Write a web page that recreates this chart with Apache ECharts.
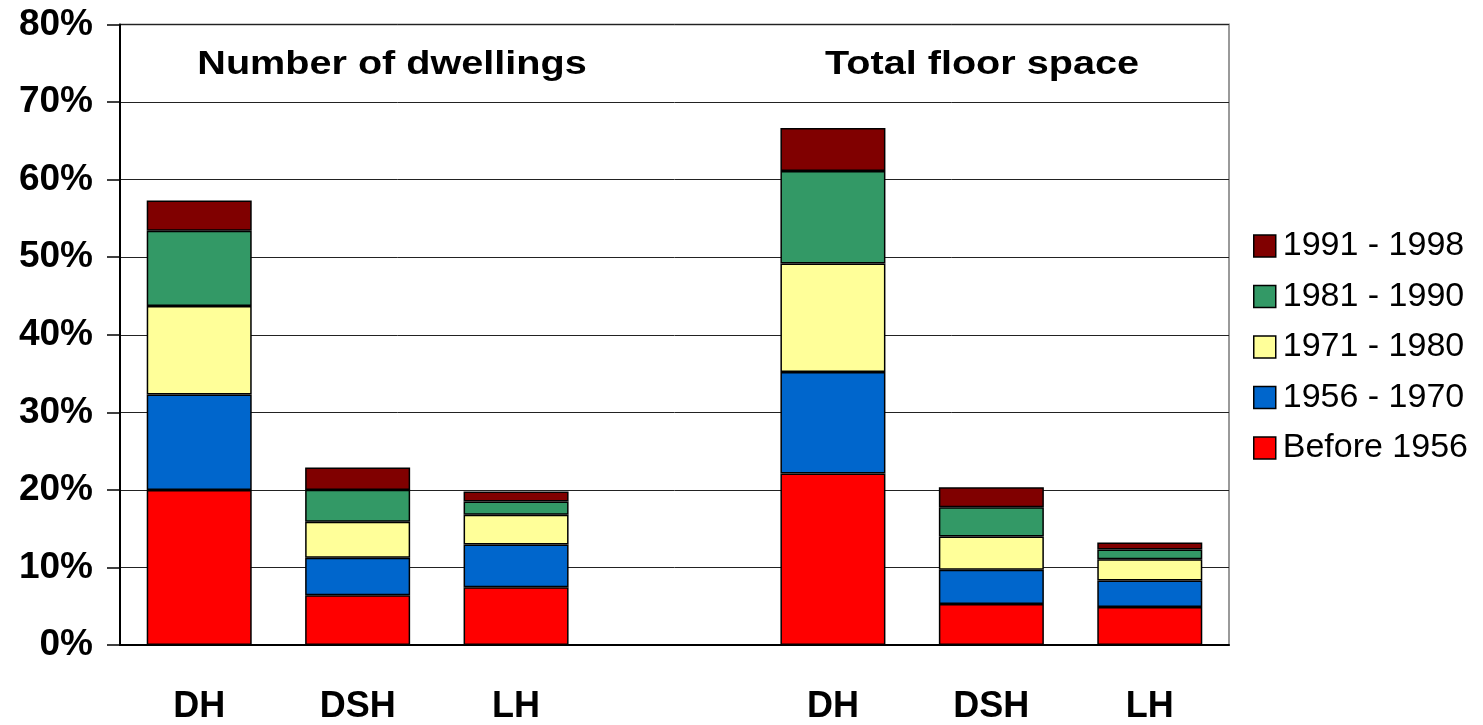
<!DOCTYPE html>
<html>
<head>
<meta charset="utf-8">
<title>Dwellings and floor space by construction period</title>
<script src="https://cdn.jsdelivr.net/npm/echarts@6/dist/echarts.min.js"></script>
<style>
  html, body { margin: 0; padding: 0; background: #fff; }
  #chart { width: 1483px; height: 725px; }
</style>
</head>
<body>
<div id="chart"></div>
<script>
// Building types, two groups separated by an empty slot
const categories = ['DH', 'DSH', 'LH', '', 'DH', 'DSH', 'LH'];

// Share (%) per construction period; first three = number of dwellings, last three = total floor space
const before1956 = [20.0, 6.4, 7.45, null, 22.1, 5.3, 4.9];
const p1956_1970 = [12.3, 4.85, 5.5, null, 13.1, 4.4, 3.4];
const p1971_1980 = [11.4, 4.65, 3.85, null, 14.0, 4.3, 2.75];
const p1981_1990 = [9.7, 4.1, 1.7, null, 11.9, 3.75, 1.25];
const p1991_1998 = [3.9, 2.9, 1.3, null, 5.55, 2.6, 0.9];

const periodNames = ['Before 1956', '1956 - 1970', '1971 - 1980', '1981 - 1990', '1991 - 1998'];
const periodValues = [before1956, p1956_1970, p1971_1980, p1981_1990, p1991_1998];
const periodColors = ['#FF0000', '#0066CC', '#FFFF99', '#339966', '#800000'];

const groupTitles = ['Number of dwellings', 'Total floor space'];

const FONT = '"Liberation Sans", Arial, sans-serif';

const chart = echarts.init(document.getElementById('chart'), null, { renderer: 'canvas' });

const series = periodNames.map((name, i) => ({
  name: name,
  type: 'bar',
  stack: 'total',
  barWidth: 105,
  data: periodValues[i],
  itemStyle: { color: periodColors[i], borderColor: '#000', borderWidth: 1.5 },
  emphasis: { disabled: true }
}));

chart.setOption({
  animation: false,
  backgroundColor: '#fff',
  grid: {
    left: 120, right: 254, top: 24.5, bottom: 78.5,
    show: true, borderColor: '#9a9a9a', borderWidth: 2, backgroundColor: '#fff'
  },
  legend: {
    orient: 'vertical',
    left: 1248, top: 224,
    itemWidth: 22, itemHeight: 22, itemGap: 16.5,
    icon: 'rect',
    data: periodNames.slice().reverse(),
    itemStyle: { borderColor: '#000', borderWidth: 1.5 },
    textStyle: { fontFamily: FONT, fontSize: 34, lineHeight: 34, color: '#000', padding: [0, 0, 0, 2] },
    selectedMode: false
  },
  xAxis: {
    type: 'category',
    data: categories,
    axisLine: { lineStyle: { color: '#000', width: 2 } },
    axisTick: { show: false },
    axisLabel: { fontFamily: FONT, fontSize: 36, fontWeight: 'bold', color: '#000', margin: 44 }
  },
  yAxis: {
    type: 'value',
    min: 0, max: 80, interval: 10,
    axisLine: { show: true, lineStyle: { color: '#000', width: 2 } },
    axisTick: { show: true, length: 13, lineStyle: { color: '#000', width: 1.5 } },
    splitLine: { lineStyle: { color: '#222', width: 1 } },
    axisLabel: {
      fontFamily: FONT, fontSize: 37, fontWeight: 'bold', color: '#000', margin: 27,
      formatter: '{value}%'
    }
  },
  graphic: [
    { type: 'text', x: 392, y: 65, scaleX: 1.2, silent: true,
      style: { text: groupTitles[0], fontFamily: FONT, fontSize: 33, fontWeight: 'bold', fill: '#000', align: 'center', verticalAlign: 'middle' } },
    { type: 'text', x: 982, y: 65, scaleX: 1.2, silent: true,
      style: { text: groupTitles[1], fontFamily: FONT, fontSize: 33, fontWeight: 'bold', fill: '#000', align: 'center', verticalAlign: 'middle' } }
  ],
  series: series
});
</script>
</body>
</html>
